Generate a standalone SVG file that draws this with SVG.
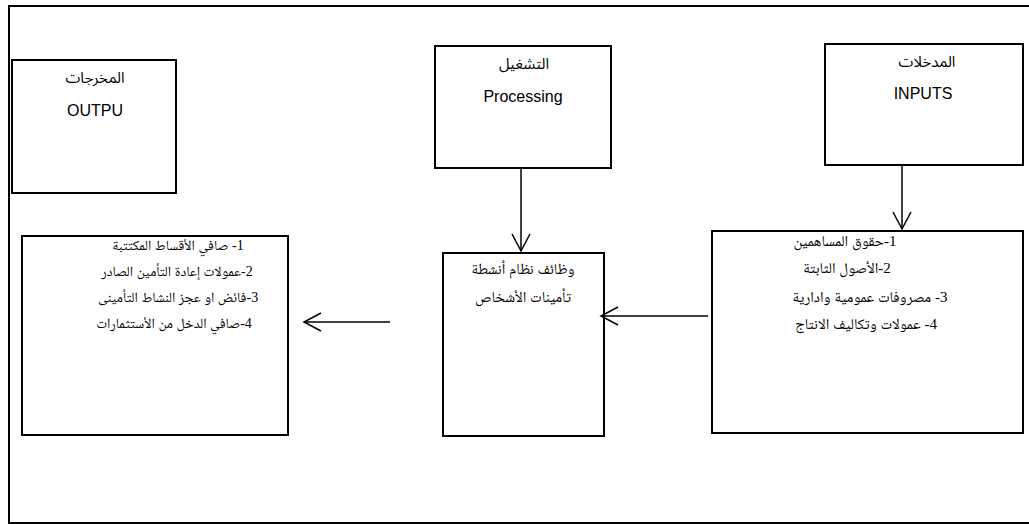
<svg xmlns="http://www.w3.org/2000/svg" width="1029" height="524" viewBox="0 0 1029 524">
<style>
.box{fill:#fff;stroke:#000;stroke-width:2}
.hd{font-family:"Liberation Sans","Noto Sans Arabic","DejaVu Sans",sans-serif;font-size:15px;fill:#000;text-anchor:middle}
.en{font-family:"Liberation Sans","DejaVu Sans",sans-serif;font-size:16px;fill:#000;text-anchor:middle}
.li{font-family:"Liberation Serif","Noto Naskh Arabic","Noto Sans Arabic","DejaVu Sans",serif;font-size:15px;fill:#000;text-anchor:middle}
.sm{font-size:14px}
.cn{stroke:#000;stroke-width:1.5;fill:none;marker-end:url(#ah)}
</style>
<defs>
<marker id="ah" markerUnits="userSpaceOnUse" markerWidth="22" markerHeight="22" refX="18" refY="10" orient="auto">
<path d="M1,1 L18,10 L1,19" fill="none" stroke="#000" stroke-width="1.5"/>
</marker>
</defs>
<rect width="1029" height="524" fill="#fff"/>
<path d="M1030,6 H9 V523 H1030" fill="none" stroke="#000" stroke-width="2"/>
<g id="outputs-header">
<rect class="box" x="12" y="60" width="164" height="133"/>
<text class="hd" x="95" y="83" direction="rtl">المخرجات</text>
<text class="en" x="95" y="116">OUTPU</text>
</g>
<g id="processing-header">
<rect class="box" x="435" y="46" width="176" height="122"/>
<text class="hd" x="524" y="69" direction="rtl">التشغيل</text>
<text class="en" x="523" y="102">Processing</text>
</g>
<g id="inputs-header">
<rect class="box" x="825" y="44" width="198" height="121"/>
<text class="hd" x="927" y="67" direction="rtl">المدخلات</text>
<text class="en" x="923" y="99">INPUTS</text>
</g>
<g id="outputs-list">
<rect class="box" x="22" y="236" width="266" height="199"/>
<text class="li sm" x="178" y="250" direction="rtl">1- صافي الأقساط المكتتبة</text>
<text class="li sm" x="177" y="276" direction="rtl">2-عمولات إعادة التأمين الصادر</text>
<text class="li sm" x="178" y="302" direction="rtl">3-فائض او عجز النشاط  التأمينى</text>
<text class="li sm" x="174" y="328" direction="rtl">4-صافي الدخل من الأستثمارات</text>
</g>
<g id="processing-list">
<rect class="box" x="443" y="253" width="161" height="183"/>
<text class="li" x="523" y="274" direction="rtl">وظائف نظام أنشطة</text>
<text class="li" x="523" y="302" direction="rtl">تأمينات الأشخاص</text>
</g>
<g id="inputs-list">
<rect class="box" x="712" y="231" width="311" height="202"/>
<text class="li" x="845" y="246" direction="rtl">1-حقوق المساهمين</text>
<text class="li" x="847" y="273" direction="rtl">2-الأصول الثابتة</text>
<text class="li" x="870" y="302" direction="rtl">3- مصروفات عمومية وادارية</text>
<text class="li" x="866" y="329" direction="rtl">4- عمولات وتكاليف الانتاج</text>
</g>
<g id="connectors">
<line class="cn" x1="902" y1="165" x2="902" y2="229"/>
<line class="cn" x1="521" y1="168" x2="521" y2="251"/>
<line class="cn" x1="708" y1="316" x2="601" y2="316"/>
<line class="cn" x1="390" y1="322" x2="304" y2="322"/>
</g>
</svg>
